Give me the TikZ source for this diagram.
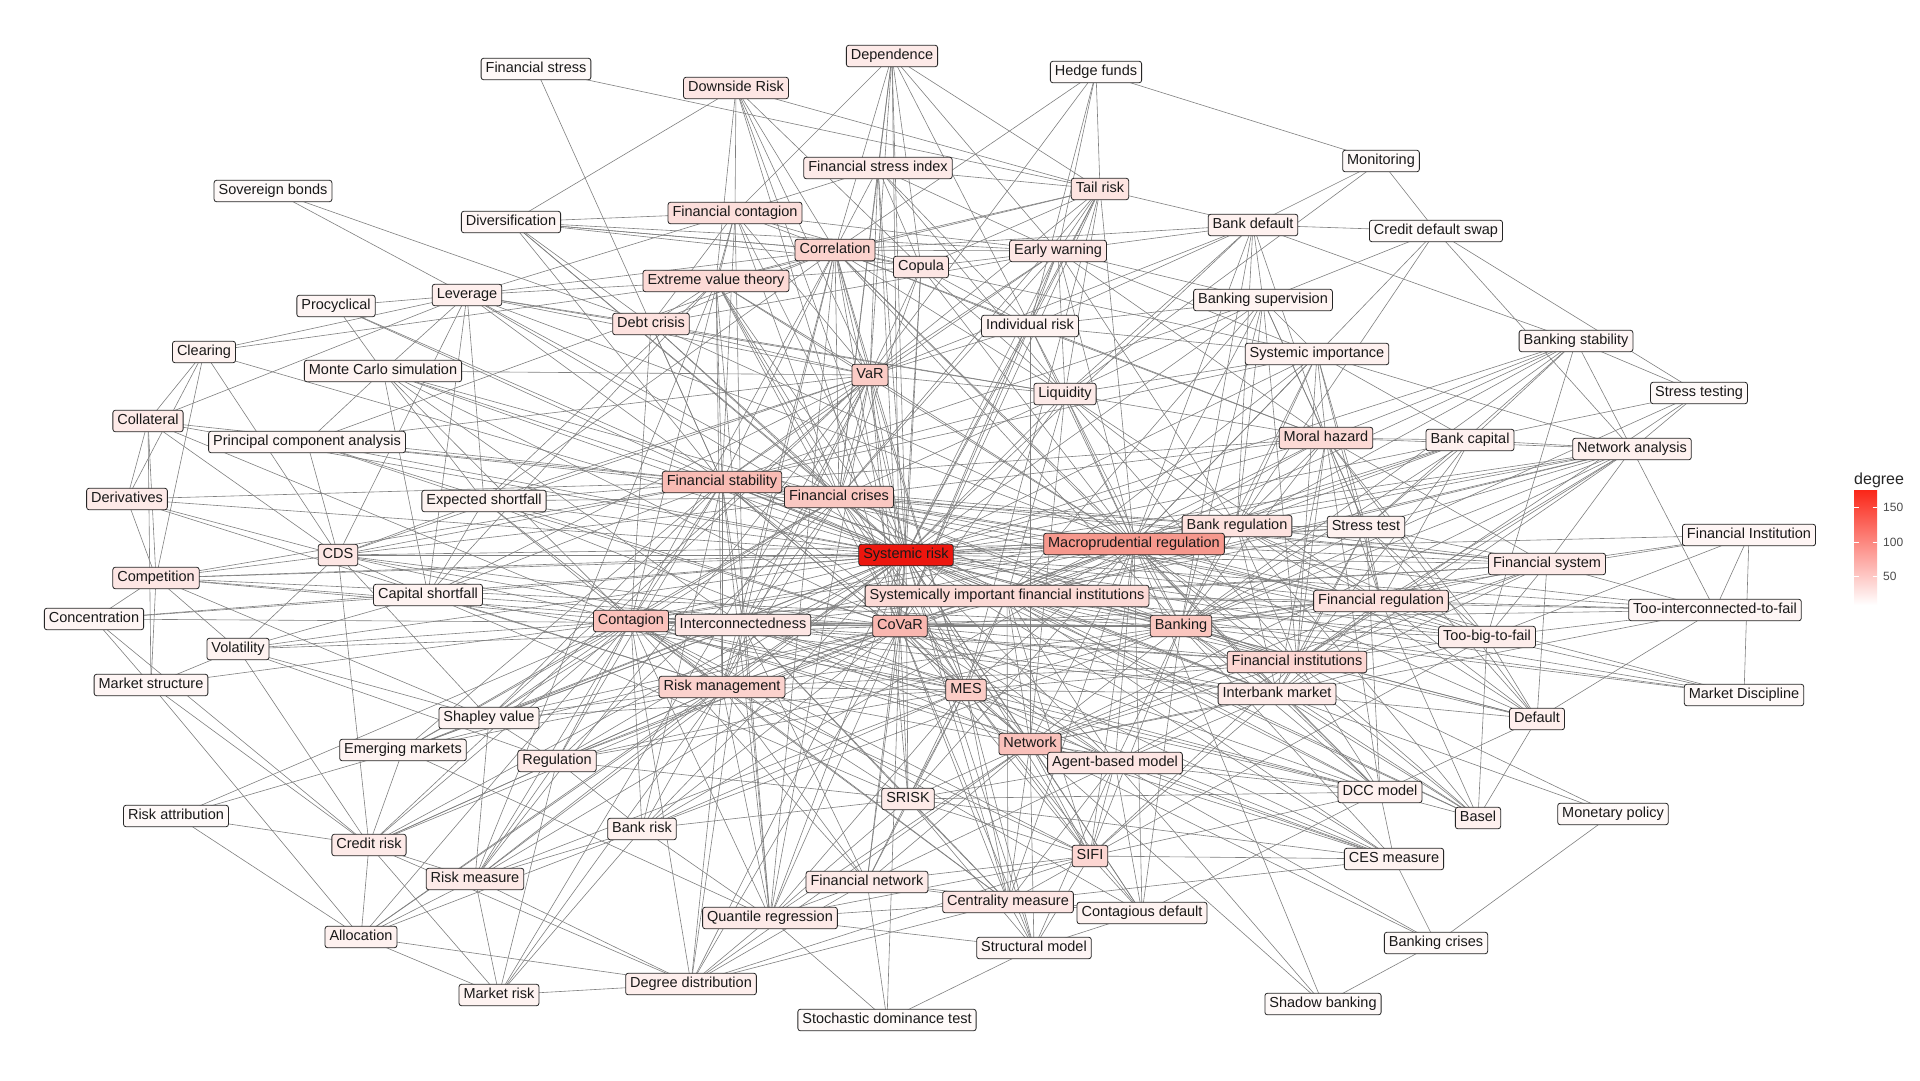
\documentclass[tikz,border=0pt]{standalone}
\usepackage{fontspec}
\setmainfont{Liberation Sans}
\usetikzlibrary{backgrounds}
\definecolor{hot}{RGB}{238,50,28}
\definecolor{srred}{RGB}{236,22,14}
\definecolor{bartop}{RGB}{250,38,24}
\definecolor{edgegray}{RGB}{128,128,128}
\newcommand{\edgesfrom}[2]{\foreach \nb in {#2}{\draw[ed] (#1.center) -- (\nb.center);}}
\begin{document}
\begin{tikzpicture}[x=1pt,y=-1pt,
 nd/.style={draw=black!85, line width=0.8pt, rounded corners=2.5pt, inner xsep=4.5pt, inner ysep=0pt, minimum height=21.5pt, text height=10.5pt, text depth=3pt, font=\fontsize{14.5}{16}\selectfont, text=black!90},
 deg/.style={fill=hot!#1!white},
 ed/.style={draw=edgegray, line width=0.6pt},
 tick/.style={draw=white, line width=0.7pt},
 ticklab/.style={anchor=west, inner sep=0pt, font=\fontsize{12}{14}\selectfont, text=black!70}]
\useasboundingbox (0,0) rectangle (1920,1080);

% ---------- nodes ----------
\node[nd, deg=3] (sov) at (273,191) {Sovereign bonds};
\node[nd, deg=3] (fstress) at (536,69) {Financial stress};
\node[nd, deg=12] (dside) at (736,88) {Downside Risk};
\node[nd, deg=10] (dep) at (892,56) {Dependence};
\node[nd, deg=3] (hedge) at (1096,72) {Hedge funds};
\node[nd, deg=3] (monit) at (1381,161) {Monitoring};
\node[nd, deg=10] (fsi) at (878,168) {Financial stress index};
\node[nd, deg=13] (tail) at (1100,189) {Tail risk};
\node[nd, deg=5] (divers) at (511,222) {Diversification};
\node[nd, deg=16] (fcont) at (735,213) {Financial contagion};
\node[nd, deg=22] (corr) at (835,250) {Correlation};
\node[nd, deg=12] (copula) at (921,267) {Copula};
\node[nd, deg=12] (early) at (1058,251) {Early warning};
\node[nd, deg=7] (bdef) at (1253,225) {Bank default};
\node[nd, deg=3] (cdsw) at (1436,231) {Credit default swap};
\node[nd, deg=18] (evt) at (716,281) {Extreme value theory};
\node[nd, deg=8] (lev) at (467,295) {Leverage};
\node[nd, deg=5] (procyc) at (336,306) {Procyclical};
\node[nd, deg=14] (debt) at (651,324) {Debt crisis};
\node[nd, deg=6] (indiv) at (1030,326) {Individual risk};
\node[nd, deg=6] (bsup) at (1263,300) {Banking supervision};
\node[nd, deg=6] (clear) at (204,352) {Clearing};
\node[nd, deg=6] (mc) at (383,371) {Monte Carlo simulation};
\node[nd, deg=25] (var) at (870,375) {VaR};
\node[nd, deg=7] (simp) at (1317,354) {Systemic importance};
\node[nd, deg=5] (bstab) at (1576,341) {Banking stability};
\node[nd, deg=10] (liq) at (1065,394) {Liquidity};
\node[nd, deg=3] (sttesting) at (1699,393) {Stress testing};
\node[nd, deg=10] (coll) at (148,421) {Collateral};
\node[nd, deg=5] (pca) at (307,442) {Principal component analysis};
\node[nd, deg=18] (moral) at (1326,438) {Moral hazard};
\node[nd, deg=7] (bcap) at (1470,440) {Bank capital};
\node[nd, deg=7] (netan) at (1632,449) {Network analysis};
\node[nd, deg=10] (deriv) at (127,499) {Derivatives};
\node[nd, deg=6] (es) at (484,501) {Expected shortfall};
\node[nd, deg=33] (fstab) at (722,482) {Financial stability};
\node[nd, deg=27] (fcris) at (839,497) {Financial crises};
\node[nd, deg=14] (breg) at (1237,526) {Bank regulation};
\node[nd, deg=7] (sttest) at (1366,527) {Stress test};
\node[nd, deg=5] (finst) at (1749,535) {Financial Institution};
\node[nd, deg=12] (cds) at (338,555) {CDS};
\node[nd, fill=srred] (sr) at (906,555) {Systemic risk};
\node[nd, deg=50] (macro) at (1134,544) {Macroprudential regulation};
\node[nd, deg=10] (fsys) at (1547,564) {Financial system};
\node[nd, deg=12] (comp) at (156,578) {Competition};
\node[nd, deg=6] (capsf) at (428,595) {Capital shortfall};
\node[nd, deg=18] (sifis) at (1007,596) {Systemically important financial institutions};
\node[nd, deg=14] (freg) at (1381,601) {Financial regulation};
\node[nd, deg=5] (tictf) at (1715,610) {Too-interconnected-to-fail};
\node[nd, deg=5] (conc) at (94,619) {Concentration};
\node[nd, deg=30] (contag) at (631,621) {Contagion};
\node[nd, deg=12] (intercon) at (743,625) {Interconnectedness};
\node[nd, deg=35] (covar) at (900,626) {CoVaR};
\node[nd, deg=28] (banking) at (1181,626) {Banking};
\node[nd, deg=9] (tbtf) at (1487,637) {Too-big-to-fail};
\node[nd, deg=6] (vol) at (238,649) {Volatility};
\node[nd, deg=20] (finsts) at (1297,662) {Financial institutions};
\node[nd, deg=5] (mstruct) at (151,685) {Market structure};
\node[nd, deg=22] (riskm) at (722,687) {Risk management};
\node[nd, deg=25] (mes) at (966,690) {MES};
\node[nd, deg=10] (interbank) at (1277,694) {Interbank market};
\node[nd, deg=3] (mdisc) at (1744,695) {Market Discipline};
\node[nd, deg=6] (shapley) at (489,718) {Shapley value};
\node[nd, deg=8] (default) at (1537,719) {Default};
\node[nd, deg=6] (emerg) at (403,750) {Emerging markets};
\node[nd, deg=30] (network) at (1030,744) {Network};
\node[nd, deg=10] (reg) at (557,761) {Regulation};
\node[nd, deg=12] (abm) at (1115,763) {Agent-based model};
\node[nd, deg=7] (dcc) at (1380,792) {DCC model};
\node[nd, deg=10] (srisk) at (908,799) {SRISK};
\node[nd, deg=7] (basel) at (1478,818) {Basel};
\node[nd, deg=3] (monpol) at (1613,814) {Monetary policy};
\node[nd, deg=3] (riskattr) at (176,816) {Risk attribution};
\node[nd, deg=7] (brisk) at (642,829) {Bank risk};
\node[nd, deg=10] (crisk) at (369,845) {Credit risk};
\node[nd, deg=20] (sifi) at (1090,856) {SIFI};
\node[nd, deg=6] (ces) at (1394,859) {CES measure};
\node[nd, deg=10] (riskmeas) at (475,879) {Risk measure};
\node[nd, deg=10] (fnet) at (867,882) {Financial network};
\node[nd, deg=12] (central) at (1008,902) {Centrality measure};
\node[nd, deg=6] (contdef) at (1142,913) {Contagious default};
\node[nd, deg=10] (quant) at (770,918) {Quantile regression};
\node[nd, deg=7] (alloc) at (361,937) {Allocation};
\node[nd, deg=3] (bcrises) at (1436,943) {Banking crises};
\node[nd, deg=5] (structm) at (1034,948) {Structural model};
\node[nd, deg=6] (mrisk) at (499,995) {Market risk};
\node[nd, deg=8] (degdist) at (691,984) {Degree distribution};
\node[nd, deg=3] (shadow) at (1323,1004) {Shadow banking};
\node[nd, deg=3] (sdt) at (887,1020) {Stochastic dominance test};

% ---------- legend ----------
\node[anchor=west, inner sep=0pt, font=\fontsize{16}{18}\selectfont, text=black!85] (legtitle) at (1854,480) {degree};
\shade[top color=bartop, bottom color=white] (1854,490) rectangle (1877,605);
\foreach \yy in {507,542,576} {\draw[tick] (1854,\yy) -- (1858.5,\yy) (1872.5,\yy) -- (1877,\yy);}
\node[ticklab] (l150) at (1883,507) {150};
\node[ticklab] (l100) at (1883,542) {100};
\node[ticklab] (l50) at (1883,576) {50};

% ---------- edges ----------
\begin{pgfonlayer}{background}
\fill[white] (0,0) rectangle (1920,1080);
\edgesfrom{sr}{dside,dep,tail,corr,copula,early,fsi,fcont,evt,debt,indiv,var,liq,simp,bsup,bdef,lev,procyc,mc,pca,coll,deriv,es,fstab,fcris,breg,sttest,finst,cds,macro,fsys,comp,capsf,sifis,freg,contag,intercon,covar,banking,tbtf,vol,finsts,riskm,mes,interbank,shapley,default,emerg,network,reg,abm,dcc,srisk,basel,brisk,crisk,sifi,ces,riskmeas,fnet,central,contdef,quant,alloc,structm,degdist,moral,bcap,netan,tictf,bstab,divers,clear,conc,mdisc}
\edgesfrom{macro}{corr,early,bdef,bsup,simp,liq,var,fstab,fcris,breg,sttest,moral,bcap,netan,fsys,freg,sifis,covar,banking,tbtf,finsts,interbank,mes,network,abm,sifi,default,contag,intercon,riskm,reg,brisk,srisk,dcc,basel,bstab,cdsw,lev,indiv,tail,copula,central,contdef,shadow,evt,debt,cds,comp,tictf}
\edgesfrom{covar}{var,fstab,fcris,corr,copula,evt,tail,dside,dep,fsi,intercon,contag,mes,srisk,quant,fnet,network,sifis,banking,finsts,dcc,ces,central,sifi,riskm,riskmeas,shapley,vol,cds,pca,mc,es,capsf,brisk,sdt,structm,abm,interbank,freg,netan,degdist,emerg,reg,crisk,liq,early,indiv}
\edgesfrom{fstab}{fcris,contag,intercon,riskm,reg,network,banking,finsts,fsys,freg,breg,moral,liq,var,corr,fcont,evt,debt,divers,lev,procyc,coll,deriv,comp,cds,pca,mc,es,capsf,shapley,emerg,brisk,quant,fstress,early,simp,bsup,interbank,sifis,mes,tbtf,abm}
\edgesfrom{contag}{fcont,intercon,network,fnet,riskm,reg,shapley,emerg,crisk,riskmeas,brisk,degdist,central,interbank,banking,finsts,fcris,mes,sifi,dcc,abm,contdef,riskattr,mstruct,coll,mc,cds,comp,vol,fsys,netan,debt,corr,es,srisk,quant,alloc,sifis}
\edgesfrom{network}{fnet,central,sifi,abm,contdef,structm,dcc,ces,bcrises,shadow,interbank,finsts,banking,netan,intercon,mes,sifis,degdist,quant,srisk,riskm,fcris,fsys,tictf,freg,liq,indiv}
\edgesfrom{fcris}{var,corr,evt,fcont,debt,early,liq,banking,finsts,breg,freg,moral,fsys,sifis,riskm,intercon,mes,dep,tail,copula,fsi,divers,lev,mc,pca,cds,es,shapley,reg,emerg}
\edgesfrom{var}{evt,corr,copula,tail,dside,dep,fsi,fcont,mc,es,pca,riskm,mes,quant,riskmeas,crisk,mrisk,liq,early,debt,lev,indiv,hedge,capsf,cds,intercon,shapley,srisk}
\edgesfrom{mes}{srisk,quant,sifi,sifis,central,fnet,ces,dcc,abm,capsf,es,riskm,riskmeas,contdef,structm,reg,shapley,banking,finsts,interbank,intercon,brisk,evt,tail,corr}
\edgesfrom{banking}{breg,freg,finsts,interbank,moral,bcap,bsup,sttest,sttesting,tbtf,fsys,default,basel,mdisc,bstab,contdef,sifi,abm,dcc,reg,brisk,conc,comp,sifis,liq,bdef,simp,riskm,intercon,netan,finst}
\edgesfrom{finsts}{interbank,freg,breg,sttest,tbtf,default,monpol,basel,sifis,sifi,abm,dcc,bcap,moral,netan,fsys,sttesting,simp,bsup,liq,intercon,riskm}
\edgesfrom{riskm}{riskmeas,reg,crisk,alloc,mrisk,degdist,quant,brisk,emerg,shapley,intercon,central,fnet,deriv,sifi,evt,corr,es,capsf}
\edgesfrom{corr}{dep,dside,hedge,tail,copula,evt,fcont,fsi,divers,early,debt,liq,indiv,lev,pca,es,intercon,bdef,simp,quant,dcc,ces,moral}
\edgesfrom{sifis}{sifi,intercon,srisk,freg,tbtf,breg,moral,bcap,netan,fsys,tictf,mdisc,central,abm,interbank,basel,dcc,ces,simp,bsup,sttest,liq}
\edgesfrom{moral}{breg,bcap,sttest,simp,bsup,bdef,tbtf,freg,fsys,netan,bstab,liq,early,indiv,interbank,default,dcc}
\edgesfrom{breg}{bsup,simp,bcap,sttest,freg,tbtf,fsys,interbank,bstab,cdsw,bdef,early,liq,basel,default}
\edgesfrom{freg}{sttest,bcap,fsys,tbtf,netan,tictf,mdisc,default,basel,interbank,simp,liq}
\edgesfrom{sttest}{bcap,netan,fsys,simp,bsup,bstab,default,tbtf,interbank,dcc}
\edgesfrom{sifi}{abm,central,contdef,structm,fnet,srisk,dcc,ces,interbank,tbtf,quant}
\edgesfrom{intercon}{fnet,srisk,central,quant,shapley,emerg,interbank,tictf,dcc,ces,degdist,fcont,mc,cds,comp}
\edgesfrom{sov}{lev,debt}
\edgesfrom{fstress}{tail}
\edgesfrom{dside}{divers,evt,copula,tail,fcont}
\edgesfrom{dep}{fcont,fsi,copula,early,tail,indiv}
\edgesfrom{hedge}{monit,early,indiv,tail}
\edgesfrom{monit}{bdef,liq,cdsw}
\edgesfrom{tail}{bdef,early,copula,evt,liq,fsi,indiv}
\edgesfrom{bdef}{early,cdsw,bstab,bsup,indiv,liq,var}
\edgesfrom{cdsw}{sttesting,netan,bsup}
\edgesfrom{bstab}{sttesting,tbtf,bcap,netan}
\edgesfrom{sttesting}{bcap,netan}
\edgesfrom{netan}{tictf,simp,bcap,interbank,fsys}
\edgesfrom{finst}{tictf,mdisc,tbtf,fsys}
\edgesfrom{tictf}{tbtf,fsys,default}
\edgesfrom{mdisc}{tbtf}
\edgesfrom{default}{fsys,dcc,interbank,tbtf,basel}
\edgesfrom{monpol}{interbank,bcrises}
\edgesfrom{basel}{dcc,interbank,tbtf}
\edgesfrom{dcc}{ces,abm,contdef,interbank,srisk}
\edgesfrom{ces}{bcrises,abm,srisk,central}
\edgesfrom{bcrises}{shadow,abm}
\edgesfrom{shadow}{abm}
\edgesfrom{sdt}{quant,structm,fnet}
\edgesfrom{structm}{contdef,central,quant,srisk,abm}
\edgesfrom{contdef}{abm,central,fnet}
\edgesfrom{central}{fnet,degdist,quant,srisk,abm}
\edgesfrom{fnet}{quant,srisk,degdist,abm}
\edgesfrom{quant}{degdist,srisk,evt,emerg,brisk}
\edgesfrom{degdist}{mrisk,alloc,riskmeas,crisk,sifi}
\edgesfrom{mrisk}{alloc,crisk,riskmeas,brisk,reg}
\edgesfrom{alloc}{crisk,riskattr,riskmeas,brisk}
\edgesfrom{riskattr}{emerg,crisk}
\edgesfrom{crisk}{emerg,riskmeas,mstruct,vol,cds,reg,conc}
\edgesfrom{riskmeas}{reg,brisk,shapley,evt}
\edgesfrom{emerg}{shapley}
\edgesfrom{reg}{brisk,srisk,shapley}
\edgesfrom{brisk}{srisk}
\edgesfrom{srisk}{capsf,abm}
\edgesfrom{shapley}{vol,comp,cds}
\edgesfrom{coll}{clear,deriv,comp,lev,cds,mstruct}
\edgesfrom{deriv}{clear,comp,cds}
\edgesfrom{comp}{clear,mstruct,conc,cds,vol}
\edgesfrom{conc}{mstruct,capsf}
\edgesfrom{mstruct}{vol,alloc}
\edgesfrom{vol}{cds,capsf,reg}
\edgesfrom{cds}{clear,pca,es,capsf,lev}
\edgesfrom{pca}{mc,es}
\edgesfrom{mc}{procyc,capsf,es,lev}
\edgesfrom{clear}{evt,lev}
\edgesfrom{procyc}{lev}
\edgesfrom{lev}{debt,fcont,evt,liq,es,capsf}
\edgesfrom{divers}{corr,copula,debt,early,fcont}
\edgesfrom{debt}{evt,fcont,liq,early}
\edgesfrom{evt}{fcont,copula,es,capsf}
\edgesfrom{fcont}{fsi,copula,early}
\edgesfrom{fsi}{copula,early,liq,indiv}
\edgesfrom{copula}{early,liq,indiv}
\edgesfrom{early}{indiv,liq,bsup,simp}
\edgesfrom{indiv}{liq,bsup,simp}
\edgesfrom{bsup}{simp,liq}
\edgesfrom{simp}{liq,bcap}
\edgesfrom{es}{capsf}
\edgesfrom{abm}{interbank}
\edgesfrom{interbank}{tbtf,fsys}
\edgesfrom{tbtf}{fsys}
\end{pgfonlayer}
\end{tikzpicture}
\end{document}
